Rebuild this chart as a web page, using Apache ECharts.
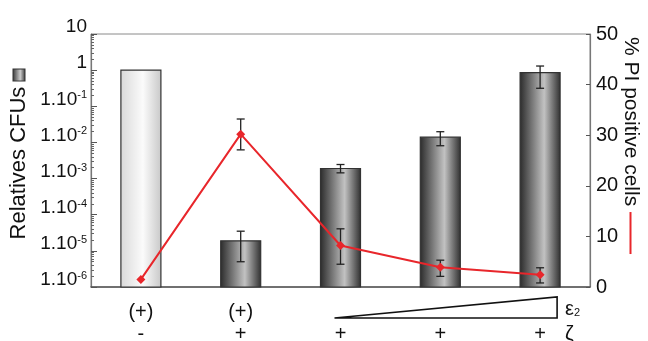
<!DOCTYPE html>
<html><head><meta charset="utf-8">
<script src="https://cdn.jsdelivr.net/npm/echarts@6/dist/echarts.min.js"></script>
<style>html,body{margin:0;padding:0;background:#fff}#c{width:648px;height:341px}</style>
</head><body><div id="c"></div>
<script>
// ---- data ----
const categories = ['A', 'B', 'C', 'D', 'E'];
const topLabels = ['(+)', '(+)', '', '', ''];
const bottomLabels = ['-', '+', '+', '+', '+'];
const cfu = [1, 1.9e-5, 1.9e-3, 1.4e-2, 0.85];
const cfuLow = [null, 5e-6, 1.44e-3, 8.1e-3, 0.315];
const cfuHigh = [null, 3.5e-5, 2.45e-3, 1.98e-2, 1.30];
const piPct = [1.5, 30.2, 8.2, 3.9, 2.4];
const piLow = [null, 27.1, 4.5, 2.1, 0.8];
const piHigh = [null, 33.2, 11.5, 5.3, 3.8];
const leftTickDecades = [-6, -5, -4, -3, -2, -1, 0];
const rightTicks = [0, 10, 20, 30, 40, 50];
const cfuAxisMin = 1e-6;

const FONT = 'Liberation Sans';
const minorTicks = [];
leftTickDecades.forEach(d => { for (let k = 2; k <= 9; k++) minorTicks.push(d + Math.log10(k)); });

const lightGrad = {type: 'linear', x: 0, y: 0, x2: 1, y2: 0, colorStops: [
  {offset: 0, color: '#d9d9d9'}, {offset: 0.55, color: '#fbfbfb'}, {offset: 1, color: '#c8c8c8'}]};
const darkGrad = {type: 'linear', x: 0, y: 0, x2: 1, y2: 0, colorStops: [
  {offset: 0, color: '#2a2a2a'}, {offset: 0.6, color: '#c2c2c2'}, {offset: 1, color: '#2e2e2e'}]};

function errSeries(low, high, yIdx) {
  return {
    type: 'custom', yAxisIndex: yIdx, z: 10,
    data: categories.map((c, i) => [i, low[i], high[i]]).filter(d => d[1] != null),
    renderItem: function (params, api) {
      const x = api.value(0);
      const p1 = api.coord([x, api.value(1)]);
      const p2 = api.coord([x, api.value(2)]);
      const w = 4;
      const st = {stroke: '#222', lineWidth: 1.3};
      return {type: 'group', children: [
        {type: 'line', shape: {x1: p1[0], y1: p1[1], x2: p2[0], y2: p2[1]}, style: st},
        {type: 'line', shape: {x1: p1[0] - w, y1: p1[1], x2: p1[0] + w, y2: p1[1]}, style: st},
        {type: 'line', shape: {x1: p2[0] - w, y1: p2[1], x2: p2[0] + w, y2: p2[1]}, style: st}
      ]};
    }
  };
}

const chart = echarts.init(document.getElementById('c'), null, {renderer: 'canvas'});
const option = {
  animation: false,
  textStyle: {fontFamily: FONT},
  grid: {left: 91, right: 58, top: 34, bottom: 54, containLabel: false, outerBoundsMode: 'none',
    show: true, borderColor: '#8a8a8a', borderWidth: 1},
  xAxis: {
    type: 'category', data: categories,
    axisLine: {lineStyle: {color: '#555', width: 1.5}},
    axisTick: {show: false},
    axisLabel: {
      margin: 14, color: '#111', fontSize: 20, lineHeight: 22,
      formatter: (v, i) => (topLabels[i] || ' ') + '\n' + bottomLabels[i]
    }
  },
  yAxis: [
    {
      type: 'log', logBase: 10, min: cfuAxisMin, max: 10, interval: 1, position: 'left',
      name: 'Relatives CFUs {sq|}', nameLocation: 'middle', nameGap: 61, nameRotate: 90, nameMoveOverlap: false,
      nameTextStyle: {fontSize: 22, color: '#111', fontFamily: FONT, padding: [0, 0, 0, 12],
        rich: {sq: {width: 11, height: 11, borderColor: '#333', borderWidth: 1,
          backgroundColor: {type: 'linear', x: 0, y: 0, x2: 0, y2: 1, colorStops: [
            {offset: 0, color: '#333'}, {offset: 0.6, color: '#ccc'}, {offset: 1, color: '#333'}]}}}},
      axisLine: {show: true, lineStyle: {color: '#777', width: 1.2}},
      axisTick: {show: true, inside: true, length: 6, lineStyle: {color: '#555'}},
      splitLine: {show: false},
      axisLabel: {
        margin: 4, color: '#111', fontSize: 19, padding: [0, 0, 14, 0],
        formatter: function (v) {
          const e = Math.round(Math.log10(v));
          if (e === 1) return '{b|10}';
          if (e === 0) return '{b|1}';
          return '{b|1.10}{s|' + e + '}';
        },
        rich: {b: {fontSize: 19, color: '#111', fontFamily: FONT}, s: {fontSize: 11, color: '#111', fontFamily: FONT, padding: [0, 0, 8, 0]}}
      }
    },
    {
      type: 'value', min: 0, max: 50, interval: 10, position: 'right',
      name: '% PI positive cells {r|}', nameLocation: 'middle', nameGap: 30, nameRotate: -90, nameMoveOverlap: false,
      nameTextStyle: {fontSize: 21, color: '#111', fontFamily: FONT, padding: [0, 30, 0, 0],
        rich: {r: {width: 42, height: 2, backgroundColor: '#e8262b'}}},
      axisLine: {show: true, lineStyle: {color: '#777', width: 1.2}},
      axisTick: {show: true, inside: true, length: 4, lineStyle: {color: '#555'}},
      splitLine: {show: false},
      axisLabel: {margin: 6, color: '#111', fontSize: 20, customValues: rightTicks}
    },
    {
      type: 'value', min: -6, max: 1, position: 'left',
      axisLine: {show: false}, axisLabel: {show: false}, splitLine: {show: false},
      axisTick: {show: true, inside: true, length: 3, customValues: minorTicks, lineStyle: {color: '#666'}}
    }
  ],
  series: [
    {
      type: 'custom', yAxisIndex: 0, z: 5,
      data: cfu.map((v, i) => [i, v]),
      renderItem: function (params, api) {
        const i = api.value(0);
        const top = api.coord([i, api.value(1)]);
        const base = api.coord([i, cfuAxisMin]);
        const w = 40;
        return {type: 'rect', shape: {x: top[0] - w / 2, y: top[1], width: w, height: base[1] - top[1]},
          style: {fill: i === 0 ? lightGrad : darkGrad, stroke: '#333', lineWidth: 1.2}};
      }
    },
    errSeries(cfuLow, cfuHigh, 0),
    errSeries(piLow, piHigh, 1),
    {
      type: 'line', yAxisIndex: 1, data: piPct, z: 11,
      lineStyle: {color: '#e8262b', width: 2},
      itemStyle: {color: '#e8262b'},
      symbol: 'diamond', symbolSize: 9
    }
  ]
};
chart.setOption(option);

// annotations under the x axis: triangle (increasing epsilon2) and factor labels
const x3 = chart.convertToPixel({xAxisIndex: 0}, 2);
const x5 = chart.convertToPixel({xAxisIndex: 0}, 4);
chart.setOption({
  graphic: [
    {type: 'polygon', shape: {points: [[x3 - 6, 318], [x5 + 17, 297], [x5 + 17, 318]]},
      style: {fill: '#fff', stroke: '#111', lineWidth: 1.6}},
    {type: 'text', x: x5 + 25, y: 309, style: {text: '{e|ε}{d|2}', fontFamily: FONT, verticalAlign: 'middle',
      rich: {e: {fontSize: 20, fontFamily: FONT, fill: '#111'}, d: {fontSize: 11, fontFamily: FONT, fill: '#111', padding: [8, 0, 0, 0]}}}},
    {type: 'text', x: x5 + 25, y: 334, style: {text: 'ζ', fontSize: 20, fontFamily: FONT, fill: '#111', verticalAlign: 'middle'}}
  ]
});
</script></body></html>
